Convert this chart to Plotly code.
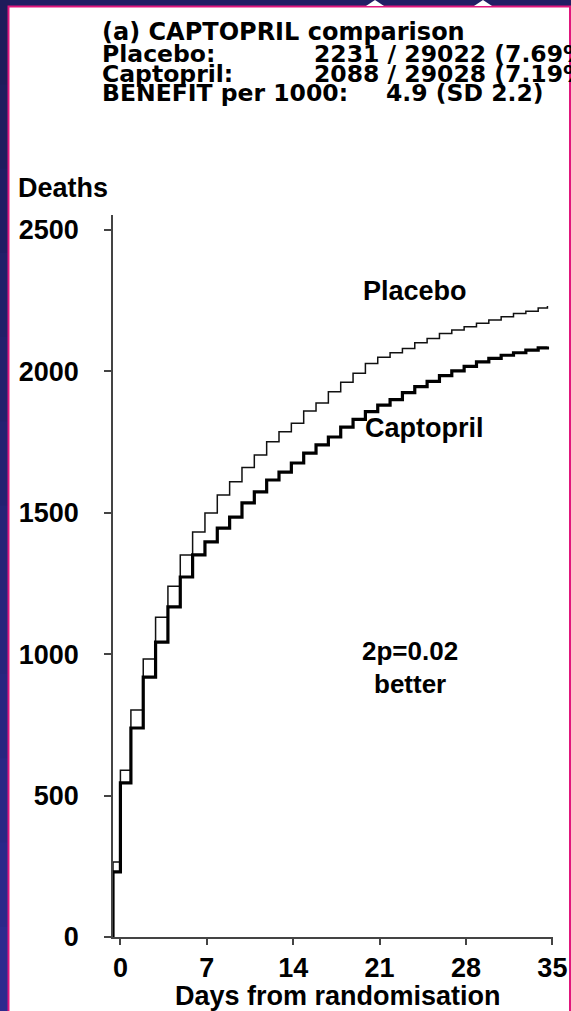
import plotly.graph_objects as go

# ---------------- data ----------------
days = [-0.6, -0.6, 0, 0.85, 1.85, 2.85, 3.85, 4.85, 5.85, 6.85, 7.85, 8.85, 9.85,
        10.85, 11.85, 12.85, 13.85, 14.85, 15.85, 16.85, 17.85, 18.85, 19.85,
        20.85, 21.85, 22.85, 23.85, 24.85, 25.85, 26.85, 27.85, 28.85, 29.85,
        30.85, 31.85, 32.85, 33.85, 34.6]
placebo = [0, 265, 590, 803, 983, 1131, 1240, 1351, 1432, 1499, 1563, 1610, 1660,
           1704, 1751, 1787, 1817, 1860, 1888, 1928, 1962, 1993, 2028, 2050, 2066,
           2081, 2101, 2116, 2134, 2146, 2158, 2170, 2182, 2193, 2205, 2213, 2224, 2231]
captopril = [0, 230, 545, 739, 919, 1043, 1167, 1273, 1351, 1397, 1446, 1485, 1535,
             1574, 1616, 1644, 1676, 1711, 1740, 1768, 1803, 1830, 1858, 1881, 1900,
             1925, 1946, 1965, 1985, 2002, 2018, 2034, 2046, 2057, 2066, 2075, 2083, 2088]

x_ticks = [0, 7, 14, 21, 28, 35]
y_ticks = [0, 500, 1000, 1500, 2000, 2500]

title_text = "(a) CAPTOPRIL comparison"
header_labels = ["Placebo:", "Captopril:", "BENEFIT per 1000:"]
header_values = ["2231 / 29022 (7.69%)", "2088 / 29028 (7.19%)", "4.9 (SD 2.2)"]
x_title = "Days from randomisation"
y_title = "Deaths"

# ---------------- layout geometry ----------------
W, H = 571, 1011
L, R, T, B = 113, 18, 215, 74
PW, PH = W - L - R, H - T - B
FONT = "Liberation Sans, Arial, Helvetica, sans-serif"
HFONT = "DejaVu Sans, Liberation Sans, sans-serif"


def px(xp):
    return (xp - L) / PW


def py(yp):
    return (H - B - yp) / PH


fig = go.Figure()
fig.add_trace(go.Scatter(x=days, y=placebo, mode="lines", line_shape="hv",
                         line=dict(color="#111111", width=1.5), name="Placebo",
                         showlegend=False, hoverinfo="skip"))
fig.add_trace(go.Scatter(x=days, y=captopril, mode="lines", line_shape="hv",
                         line=dict(color="#000000", width=3.2), name="Captopril",
                         showlegend=False, hoverinfo="skip"))

shapes = []
# slide frame: navy background with gradient on the left strip
navy_top = (30, 27, 90)
navy_bot = (45, 42, 142)
n = 12
for i in range(n):
    f = i / (n - 1)
    c = tuple(int(navy_top[k] + (navy_bot[k] - navy_top[k]) * f) for k in range(3))
    y0 = H * i / n
    y1 = H * (i + 1) / n + 1
    shapes.append(dict(type="rect", xref="paper", yref="paper", layer="below",
                       x0=px(0), x1=px(10), y0=py(y1), y1=py(y0),
                       fillcolor="rgb(%d,%d,%d)" % c, line=dict(width=0)))
# white page with magenta edge
shapes.append(dict(type="rect", xref="paper", yref="paper", layer="below",
                   x0=px(8.5), x1=px(570), y0=py(H + 5), y1=py(6.5),
                   fillcolor="white", line=dict(color="#e0167c", width=2)))
# small white marks in the top strip
for cx in (375, 483):
    shapes.append(dict(type="path", xref="paper", yref="paper", layer="below",
                       path="M %f,%f L %f,%f L %f,%f Z" % (px(cx - 9), py(6), px(cx), py(0),
                                                             px(cx + 9), py(6)),
                       fillcolor="white", line=dict(width=0)))

annotations = []


def txt(s, xp, yp, xanchor="left", size=27, family=FONT):
    annotations.append(dict(text="<b>%s</b>" % s, x=px(xp), y=py(yp), xref="paper",
                            yref="paper", xanchor=xanchor, yanchor="middle",
                            showarrow=False, font=dict(family=family, size=size, color="black")))


txt(title_text, 100, 32, size=24, family=HFONT)
hy = [54, 74, 93]
for lab, val, yy, xv in zip(header_labels, header_values, hy, [312, 312, 384]):
    txt(lab, 100, yy, size=23.5, family=HFONT)
    txt(val, xv, yy, size=23.5, family=HFONT)
txt(y_title, 16, 188)
txt(x_title, 338, 996, "center")
txt("Placebo", 415, 291, "center")
txt("Captopril", 424, 428, "center")
txt("2p=0.02", 410, 651, "center", 26)
txt("better", 410, 684, "center", 26)

fig.update_layout(
    width=W, height=H, autosize=False,
    margin=dict(l=L, r=R, t=T, b=B, pad=0),
    paper_bgcolor="rgb(33,30,100)", plot_bgcolor="rgba(0,0,0,0)",
    shapes=shapes, annotations=annotations,
    font=dict(family=FONT, color="black"),
    xaxis=dict(range=[-0.6, 35.05], tickvals=x_ticks, automargin=False,
               ticktext=["<b>%d</b>" % v for v in x_ticks],
               showgrid=False, zeroline=False, showline=True, linecolor="#444",
               linewidth=1.5, ticks="outside", ticklen=6, tickwidth=1.5, tickcolor="#444",
               tickfont=dict(size=27, family=FONT, color="black")),
    yaxis=dict(range=[0, 2553], tickvals=y_ticks, automargin=False,
               ticktext=["<b>%d</b>" % v for v in y_ticks],
               showgrid=False, zeroline=False, showline=True, linecolor="#444",
               linewidth=1.5, ticks="outside", ticklen=7, tickwidth=1.5, tickcolor="#444",
               ticklabelstandoff=20,
               tickfont=dict(size=27, family=FONT, color="black")),
)

fig.write_html("out.html", config={"displayModeBar": False})
